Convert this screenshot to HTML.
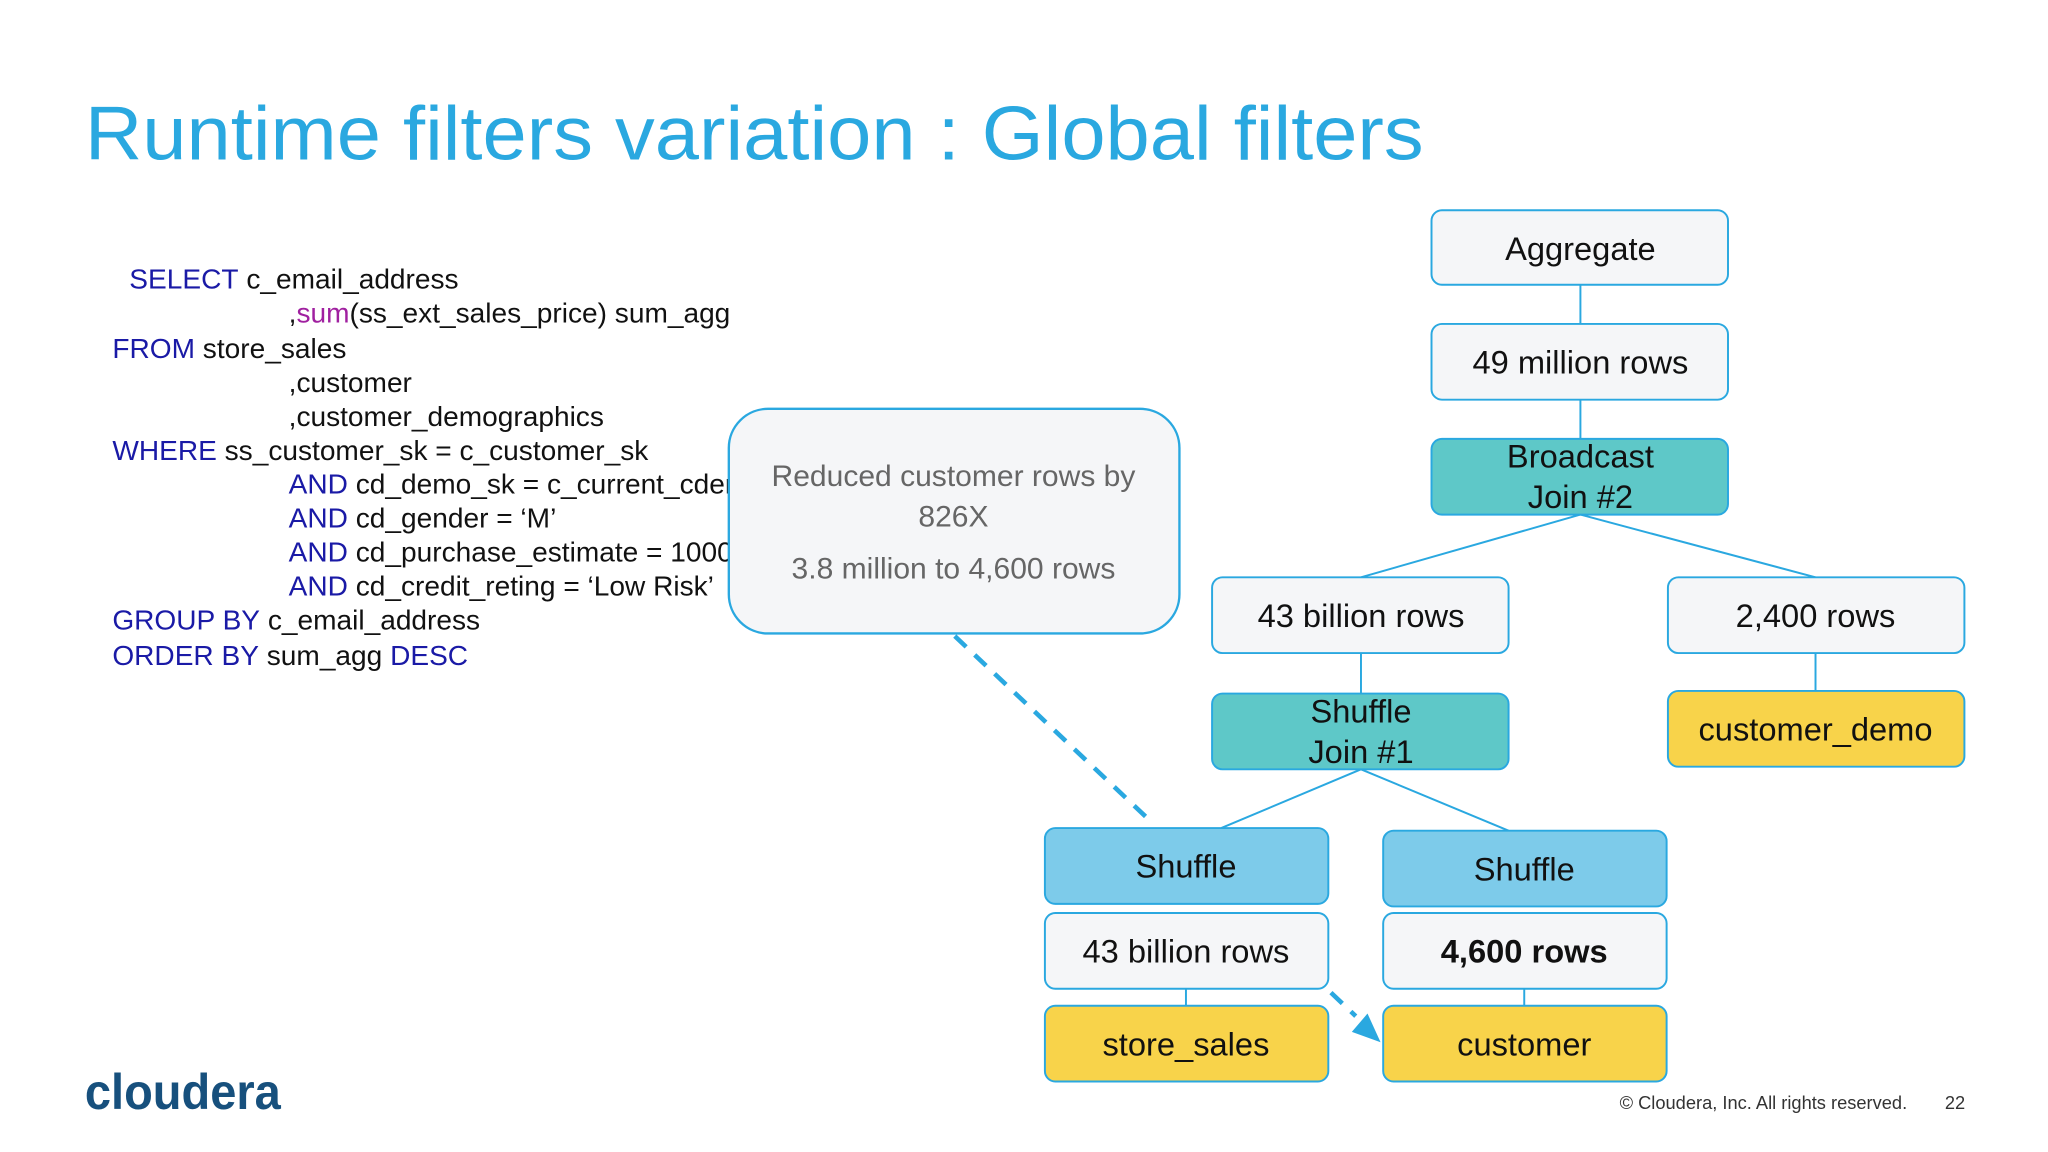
<!DOCTYPE html>
<html><head><meta charset="utf-8"><style>
html,body{margin:0;padding:0;background:#fff;}
svg{display:block;}
text{font-family:"Liberation Sans",Arial,sans-serif;}
</style></head><body>
<svg width="2048" height="1152" viewBox="0 0 1568 882" xmlns="http://www.w3.org/2000/svg">
<rect width="1568" height="882" fill="#fff"/>
<text x="65" y="122" font-size="58" fill="#2aa8e0" textLength="1025" lengthAdjust="spacingAndGlyphs">Runtime filters variation : Global filters</text>

<g font-size="21.5" fill="#111">
<text x="99" y="221"><tspan fill="#1a1aa6">SELECT</tspan> c_email_address</text>
<text x="221" y="247">,<tspan fill="#a020a0">sum</tspan>(ss_ext_sales_price) sum_agg</text>
<text x="86" y="274"><tspan fill="#1a1aa6">FROM</tspan> store_sales</text>
<text x="221" y="300">,customer</text>
<text x="221" y="326">,customer_demographics</text>
<text x="86" y="352"><tspan fill="#1a1aa6">WHERE</tspan> ss_customer_sk = c_customer_sk</text>
<text x="221" y="378"><tspan fill="#1a1aa6">AND</tspan> cd_demo_sk = c_current_cdemo_sk</text>
<text x="221" y="404"><tspan fill="#1a1aa6">AND</tspan> cd_gender = ‘M’</text>
<text x="221" y="430"><tspan fill="#1a1aa6">AND</tspan> cd_purchase_estimate = 10000</text>
<text x="221" y="456"><tspan fill="#1a1aa6">AND</tspan> cd_credit_reting = ‘Low Risk’</text>
<text x="86" y="482"><tspan fill="#1a1aa6">GROUP BY</tspan> c_email_address</text>
<text x="86" y="509"><tspan fill="#1a1aa6">ORDER BY</tspan> sum_agg <tspan fill="#1a1aa6">DESC</tspan></text>
</g>

<rect x="558" y="313" width="345" height="172" rx="30" fill="#f5f6f8" stroke="#2aa8e0" stroke-width="1.8"/>
<g font-size="23" fill="#666" text-anchor="middle">
<text x="730" y="372">Reduced customer rows by</text>
<text x="730" y="403">826X</text>
<text x="730" y="443">3.8 million to 4,600 rows</text>
</g>

<g stroke="#2aa8e0" stroke-width="1.5" fill="none">
<line x1="1210" y1="218" x2="1210" y2="248"/>
<line x1="1210" y1="306" x2="1210" y2="336"/>
<line x1="1210" y1="394" x2="1042" y2="442"/>
<line x1="1210" y1="394" x2="1390" y2="442"/>
<line x1="1042" y1="500" x2="1042" y2="531"/>
<line x1="1390" y1="500" x2="1390" y2="529"/>
<line x1="1042" y1="589" x2="935" y2="634"/>
<line x1="1042" y1="589" x2="1155" y2="636"/>
<line x1="908" y1="757" x2="908" y2="770"/>
<line x1="1167" y1="757" x2="1167" y2="770"/>
</g>
<g stroke="#2aa8e0" stroke-width="3.5" stroke-dasharray="12,9" fill="none">
<line x1="731" y1="487" x2="878" y2="626"/>
<line x1="1019" y1="760" x2="1038" y2="778"/>
</g>
<polygon points="1057,798 1035,790 1047,776" fill="#2aa8e0"/>

<g stroke="#2aa8e0" stroke-width="1.5">
<rect x="1096" y="161" width="227" height="57" rx="8" fill="#f5f6f8"/>
<rect x="1096" y="248" width="227" height="58" rx="8" fill="#f5f6f8"/>
<rect x="1096" y="336" width="227" height="58" rx="8" fill="#5ec8c8"/>
<rect x="928" y="442" width="227" height="58" rx="8" fill="#f5f6f8"/>
<rect x="1277" y="442" width="227" height="58" rx="8" fill="#f5f6f8"/>
<rect x="928" y="531" width="227" height="58" rx="8" fill="#5ec8c8"/>
<rect x="1277" y="529" width="227" height="58" rx="8" fill="#f8d34a"/>
<rect x="800" y="634" width="217" height="58" rx="8" fill="#7dcbea"/>
<rect x="1059" y="636" width="217" height="58" rx="8" fill="#7dcbea"/>
<rect x="800" y="699" width="217" height="58" rx="8" fill="#f5f6f8"/>
<rect x="1059" y="699" width="217" height="58" rx="8" fill="#f5f6f8"/>
<rect x="800" y="770" width="217" height="58" rx="8" fill="#f8d34a"/>
<rect x="1059" y="770" width="217" height="58" rx="8" fill="#f8d34a"/>
</g>
<g font-size="25" fill="#111" text-anchor="middle">
<text x="1210" y="199">Aggregate</text>
<text x="1210" y="286">49 million rows</text>
<text x="1210" y="358">Broadcast</text>
<text x="1210" y="389">Join #2</text>
<text x="1042" y="480">43 billion rows</text>
<text x="1390" y="480">2,400 rows</text>
<text x="1042" y="553">Shuffle</text>
<text x="1042" y="584">Join #1</text>
<text x="1390" y="567">customer_demo</text>
<text x="908" y="672">Shuffle</text>
<text x="1167" y="674">Shuffle</text>
<text x="908" y="737">43 billion rows</text>
<text x="1167" y="737" font-weight="bold">4,600 rows</text>
<text x="908" y="808">store_sales</text>
<text x="1167" y="808">customer</text>
</g>

<text x="65" y="849" font-size="38" font-weight="bold" fill="#17507d" textLength="150" lengthAdjust="spacingAndGlyphs">cloudera</text>
<text x="1240" y="849" font-size="14" fill="#333">© Cloudera, Inc. All rights reserved.</text>
<text x="1489" y="849" font-size="14" fill="#333">22</text>
</svg>
</body></html>
